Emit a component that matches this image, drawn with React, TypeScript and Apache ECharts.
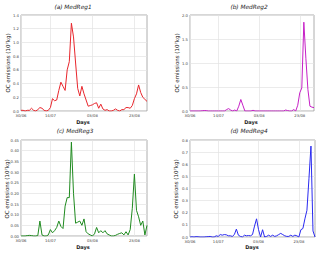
import React, { useEffect, useRef } from 'react';
import * as echarts from 'echarts';

const tickLabels = ['30/06', '14/07', '03/08', '23/08'];
const titles = ['(a) MedReg1', '(b) MedReg2', '(c) MedReg3', '(d) MedReg4'];
const yName = 'OC emissions (10⁷kg)';
const xName = 'Days';

// daily OC emissions (10^7 kg), starting 30/06
const regA = [0.01, 0.01, 0.0, 0.01, 0.01, 0.04, 0.01, 0.0, 0.02, 0.05,
  0.04, 0.01, 0.0, 0.01, 0.05, 0.18, 0.15, 0.16, 0.3, 0.42,
  0.36, 0.3, 0.6, 0.72, 1.28, 1.08, 0.7, 0.33, 0.22, 0.36,
  0.25, 0.16, 0.07, 0.08, 0.09, 0.11, 0.12, 0.04, 0.1, 0.03,
  0.01, 0.02, 0.0, 0.0, 0.01, 0.03, 0.01, 0.0, 0.02, 0.02,
  0.05, 0.05, 0.04, 0.08, 0.18, 0.25, 0.38, 0.27, 0.2, 0.17,
  0.14];
const regB = [0, 0, 0, 0, 0, 0, 0.005, 0.01, 0.008, 0,
  0, 0, 0, 0, 0, 0, 0, 0, 0.03, 0.05,
  0.02, 0, 0.02, 0, 0.1, 0.24, 0.12, 0, 0, 0,
  0, 0.015, 0, 0, 0, 0, 0, 0, 0, 0,
  0, 0, 0, 0, 0, 0, 0, 0.02, 0.01, 0,
  0, 0.03, 0, 0.12, 0.38, 0.48, 1.85, 1.1, 0.45, 0.1,
  0.08, 0.07];
const regC = [0, 0, 0, 0.002, 0.003, 0.002, 0, 0, 0.002, 0.07,
  0.005, 0, 0, 0.005, 0.03, 0.015, 0.025, 0.04, 0.07, 0.045,
  0.035, 0.14, 0.18, 0.18, 0.44, 0.2, 0.06, 0.065, 0.07, 0.05,
  0.08, 0.02, 0.01, 0.005, 0, 0.01, 0.04, 0.015, 0.025, 0.015,
  0.025, 0.01, 0.005, 0, 0, 0.003, 0.008, 0.012, 0.015, 0.005,
  0.02, 0.005, 0.03, 0.13, 0.29, 0.12, 0.09, 0.05, 0.07, 0.005,
  0.05];
const regD = [0, 0.002, 0, 0.003, 0.002, 0, 0, 0, 0.002, 0.003,
  0.005, 0, 0, 0.01, 0.005, 0.02, 0.015, 0.02, 0.018, 0.01,
  0.01, 0.005, 0.02, 0.065, 0.015, 0.005, 0, 0.015, 0.01, 0.012,
  0.01, 0.02, 0.09, 0.15, 0.06, 0, 0.06, 0, 0.005, 0.015,
  0.005, 0.015, 0.005, 0.01, 0.02, 0.03, 0.02, 0.01, 0.005, 0.005,
  0.015, 0.005, 0.015, 0.01, 0, 0.06, 0.07, 0.15, 0.22, 0.48,
  0.75, 0.05, 0];

const yMax = [1.4, 2.0, 0.45, 0.8];
const yStep = [0.2, 0.5, 0.05, 0.1];
const yDec = [1, 1, 2, 1];

function dayLabels(n: number): string[] {
  const out: string[] = [];
  const start = Date.UTC(2000, 5, 30);
  for (let i = 0; i < n; i++) {
    const d = new Date(start + i * 86400000);
    const dd = String(d.getUTCDate()).padStart(2, '0');
    const mm = String(d.getUTCMonth() + 1).padStart(2, '0');
    out.push(dd + '/' + mm);
  }
  return out;
}

const FONT = 'DejaVu Sans';

const layout = [
  { data: regA, color: '#e8262c', grid: { left: 21, top: 15, width: 126, height: 96 }, title: [73, 6.5], yl: [7.5, 63], xl: [83, 122] },
  { data: regB, color: '#c620c6', grid: { left: 190, top: 15, width: 124, height: 96 }, title: [249, 6.5], yl: [176.5, 63], xl: [251, 122] },
  { data: regC, color: '#1f8a1f', grid: { left: 21, top: 140, width: 126, height: 96 }, title: [75, 131], yl: [6.5, 189], xl: [83, 246.5] },
  { data: regD, color: '#2a2af0', grid: { left: 190, top: 140, width: 125, height: 97 }, title: [249, 131], yl: [176, 189], xl: [252, 246.5] },
];

export default function App() {
  const ref = useRef<HTMLDivElement>(null);
  useEffect(() => {
    if (!ref.current) return;
    const chart = echarts.init(ref.current, undefined, { renderer: 'svg' });
    const isTick = (_i: number, v: string) => tickLabels.indexOf(v) >= 0;
    const graphic: any[] = [];
    layout.forEach((p, i) => {
      graphic.push({
        type: 'text', x: p.title[0], y: p.title[1],
        style: { text: titles[i], font: `italic 5.8px "${FONT}"`, fill: '#222', textAlign: 'center', textVerticalAlign: 'middle' },
      });
      graphic.push({
        type: 'text', x: p.yl[0], y: p.yl[1], rotation: Math.PI / 2,
        style: { text: yName, font: `5.5px "${FONT}"`, fill: '#222', textAlign: 'center', textVerticalAlign: 'middle' },
      });
      graphic.push({
        type: 'text', x: p.xl[0], y: p.xl[1],
        style: { text: xName, font: `bold 5px "${FONT}"`, fill: '#222', textAlign: 'center', textVerticalAlign: 'middle' },
      });
    });
    chart.setOption({
      animation: false,
      backgroundColor: '#fff',
      grid: layout.map((p) => ({ ...p.grid, show: true, borderColor: '#999', borderWidth: 0.8, backgroundColor: 'transparent' })),
      xAxis: layout.map((p, i) => ({
        type: 'category', gridIndex: i, boundaryGap: false,
        data: dayLabels(p.data.length),
        axisLine: { show: false }, axisTick: { show: false },
        axisLabel: { interval: isTick, fontSize: 3.8, color: '#444', margin: 2, fontFamily: FONT },
        splitLine: { show: true, interval: isTick, lineStyle: { color: '#e2e2e2', width: 0.7 } },
      })),
      yAxis: layout.map((_p, i) => ({
        type: 'value', gridIndex: i, min: 0, max: yMax[i], interval: yStep[i],
        axisLine: { show: false }, axisTick: { show: false },
        axisLabel: { fontSize: 3.8, color: '#444', margin: 2, fontFamily: FONT, formatter: (v: number) => v.toFixed(yDec[i]) },
        splitLine: { show: true, lineStyle: { color: '#e2e2e2', width: 0.7 } },
      })),
      series: layout.map((p, i) => ({
        type: 'line', xAxisIndex: i, yAxisIndex: i, data: p.data,
        showSymbol: false, symbol: 'none', color: p.color,
        lineStyle: { color: p.color, width: 1 },
      })),
      graphic,
    });
    return () => chart.dispose();
  }, []);
  return <div ref={ref} style={{ position: 'absolute', left: 0, top: 0, width: 320, height: 253, background: '#fff' }} />;
}
